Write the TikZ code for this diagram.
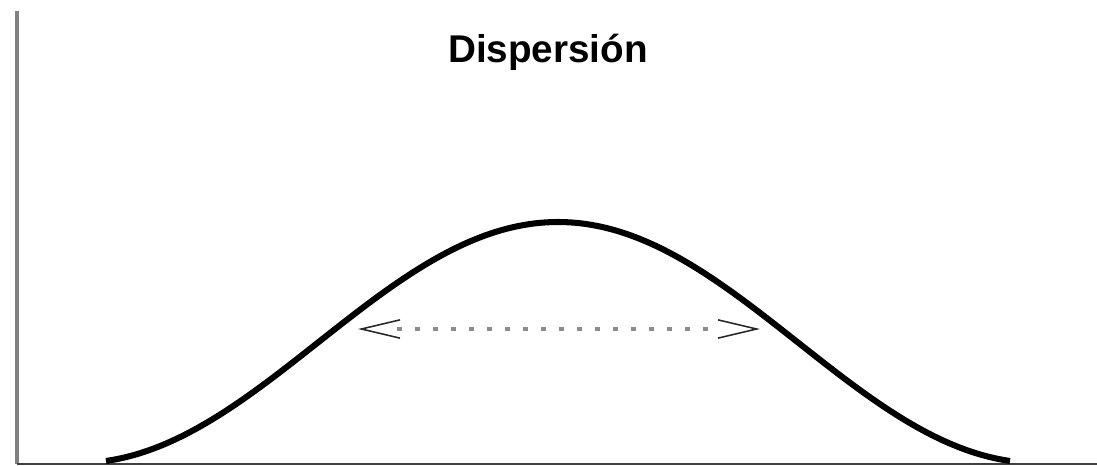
\documentclass[tikz,border=0pt]{standalone}
\usepackage{fontspec}
\setmainfont{Liberation Sans}
\usetikzlibrary{arrows.meta}
\begin{document}
\begin{tikzpicture}[x=0.025cm, y=-0.025cm,
  axisv/.style={draw=black!50, line width=2.8pt},
  axish/.style={draw=black!75, line width=1.6pt},
  bell/.style={draw=black, line width=4.3pt},
  spreaddots/.style={draw=black!45, line width=3.2pt, dash pattern=on 3.6pt off 9.2pt, shorten <=28pt, shorten >=28pt},
  spreadtips/.style={tips, color=black!85, {Straight Barb[length=27.5pt, width=13pt, line width=1.1pt]}-{Straight Barb[length=27.5pt, width=13pt, line width=1.1pt]}}]
  \useasboundingbox (0,0) rectangle (1097,466);

  % 軸
  \coordinate (top) at (17,11);
  \coordinate (origin) at (17,464);
  \coordinate (right) at (1097,464);
  \draw[axisv] (top) -- (origin);
  \draw[axish] (origin) -- (right);

  % タイトル
  \node[anchor=base, font=\bfseries\fontsize{27.5}{32}\selectfont] (title) at (548,63) {Dispersión};

  % 曲線
  \draw[bell] plot[domain=-452:452, samples=120, smooth]
    (558+\x, {463-120.5*(1+cos(0.375*\x))});

  % 矢印
  \coordinate (spreadL) at (358,329);
  \coordinate (spreadR) at (760,329);
  \draw[spreaddots] (spreadL) -- (spreadR);
  \path[spreadtips] (spreadL) -- (spreadR);
\end{tikzpicture}
\end{document}
